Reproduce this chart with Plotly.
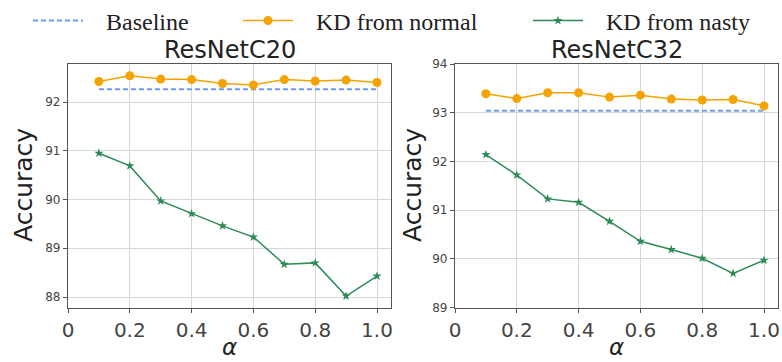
import plotly.graph_objects as go

alpha = [0.1, 0.2, 0.3, 0.4, 0.5, 0.6, 0.7, 0.8, 0.9, 1.0]
c20_normal = [92.42, 92.54, 92.47, 92.46, 92.38, 92.35, 92.46, 92.43, 92.45, 92.40]
c20_nasty = [90.95, 90.69, 89.97, 89.71, 89.46, 89.23, 88.67, 88.70, 88.02, 88.43]
c20_base = [92.26] * len(alpha)
c32_normal = [93.39, 93.29, 93.41, 93.41, 93.32, 93.36, 93.28, 93.26, 93.27, 93.14]
c32_nasty = [92.14, 91.72, 91.23, 91.16, 90.77, 90.36, 90.19, 90.01, 89.70, 89.97]
c32_base = [93.04] * len(alpha)

x_ticks = [0, 0.2, 0.4, 0.6, 0.8, 1.0]
x_ticktext = ["0", "0.2", "0.4", "0.6", "0.8", "1.0"]
c20_yticks = [88, 89, 90, 91, 92]
c32_yticks = [89, 90, 91, 92, 93, 94]
titles = ["ResNetC20", "ResNetC32"]
series_names = ["Baseline", "KD from normal", "KD from nasty"]

BLUE = "#6d9eeb"
ORANGE = "#f5a300"
GREEN = "#2e8b57"
PAD = "\u00a0\u00a0\u00a0"

fig = go.Figure()

for i, (base, normal, nasty) in enumerate([(c20_base, c20_normal, c20_nasty),
                                             (c32_base, c32_normal, c32_nasty)]):
    xa = "x" if i == 0 else "x2"
    ya = "y" if i == 0 else "y2"
    show = i == 0
    fig.add_trace(go.Scatter(x=alpha, y=base, mode="lines", name=PAD + series_names[0],
                             line=dict(color=BLUE, width=2, dash="5px,3px"),
                             xaxis=xa, yaxis=ya, showlegend=show, legend="legend"))
    fig.add_trace(go.Scatter(x=alpha, y=normal, mode="lines+markers", name=PAD + series_names[1],
                             line=dict(color=ORANGE, width=1.5),
                             marker=dict(color=ORANGE, size=9, symbol="circle"),
                             xaxis=xa, yaxis=ya, showlegend=show, legend="legend2"))
    fig.add_trace(go.Scatter(x=alpha, y=nasty, mode="lines+markers", name=PAD + series_names[2],
                             line=dict(color=GREEN, width=1.5),
                             marker=dict(color=GREEN, size=7, symbol="star"),
                             xaxis=xa, yaxis=ya, showlegend=show, legend="legend3"))

W, H = 782, 362
ydom = [1 - 307.5 / H, 1 - 64 / H]
xdom1 = [68 / W, 391 / W]
xdom2 = [455 / W, 778 / W]

axis_common = dict(showline=True, linecolor="#555555", linewidth=1.2, mirror=True,
                   showgrid=True, gridcolor="#d8d8d8", gridwidth=1,
                   ticks="outside", ticklen=4, tickcolor="#555555", zeroline=False,
                   automargin=False, ticklabeloverflow="allow")

xcommon = dict(axis_common, range=[0, 1.0453], tickvals=x_ticks, ticktext=x_ticktext,
               tickfont=dict(family="DejaVu Sans", size=20, color="#444444"))

legend_font = dict(family="Liberation Serif", size=24, color="#222222")
leg_common = dict(orientation="h", font=legend_font, bgcolor="rgba(0,0,0,0)",
                  itemwidth=50, yanchor="middle", y=1 - 21 / H, xanchor="left")

fig.update_layout(
    width=W, height=H,
    margin=dict(l=0, r=0, t=0, b=0, pad=0, autoexpand=False),
    paper_bgcolor="white", plot_bgcolor="white",
    xaxis=dict(xcommon, domain=xdom1, anchor="y"),
    xaxis2=dict(xcommon, domain=xdom2, anchor="y2"),
    yaxis=dict(axis_common, domain=ydom, anchor="x", range=[87.785, 92.78], tickvals=c20_yticks,
               tickfont=dict(family="DejaVu Sans", size=12, color="#444444")),
    yaxis2=dict(axis_common, domain=ydom, anchor="x2", range=[89, 94], tickvals=c32_yticks,
                tickfont=dict(family="DejaVu Sans", size=12, color="#444444")),
    legend=dict(leg_common, x=28 / W),
    legend2=dict(leg_common, x=238 / W),
    legend3=dict(leg_common, x=528 / W),
    showlegend=True,
)

# Titles and axis labels
for cx, t in zip([(68 + 391) / 2, (455 + 778) / 2], titles):
    fig.add_annotation(text=t, x=cx / W, y=1 - 66 / H, xref="paper", yref="paper",
                       xanchor="center", yanchor="bottom", showarrow=False,
                       font=dict(family="DejaVu Sans", size=24, color="#222222"))
    fig.add_annotation(text="<i>α</i>", x=cx / W, y=0, xref="paper", yref="paper",
                       xanchor="center", yanchor="bottom", showarrow=False,
                       font=dict(family="DejaVu Sans", size=23, color="#222222"))

for cx in [23, 412]:
    fig.add_annotation(text="Accuracy", x=cx / W, y=1 - 185 / H, xref="paper", yref="paper",
                       xanchor="center", yanchor="middle", showarrow=False, textangle=-90,
                       font=dict(family="DejaVu Sans", size=25, color="#222222"))

fig.write_html("out.html", post_script="document.body.style.margin='0';",
               config={"displayModeBar": False})
